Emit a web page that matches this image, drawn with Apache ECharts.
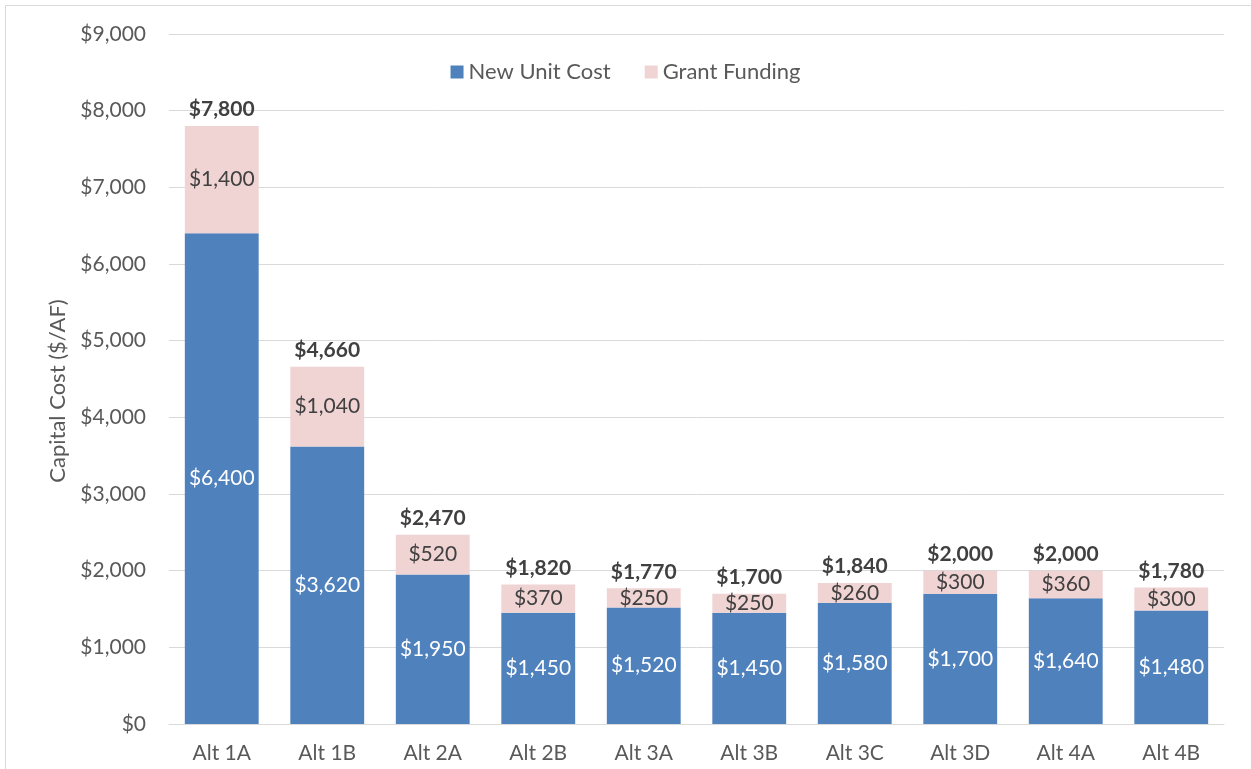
<!DOCTYPE html>
<html>
<head>
    <meta charset="utf-8">
    <title>Capital Cost</title>
    <script src="https://cdn.jsdelivr.net/npm/echarts@6/dist/echarts.min.js"></script>
    <style>
      html, body { margin: 0; padding: 0; background: #fff; }
      #main { width: 1251px; height: 769px; }
    </style>
</head>
<body>
    <div id="main"></div>
    <script type="text/javascript">
      // data
      var categories = ['Alt 1A', 'Alt 1B', 'Alt 2A', 'Alt 2B', 'Alt 3A', 'Alt 3B', 'Alt 3C', 'Alt 3D', 'Alt 4A', 'Alt 4B'];
      var newUnitCost = [6400, 3620, 1950, 1450, 1520, 1450, 1580, 1700, 1640, 1480];
      var grantFunding = [1400, 1040, 520, 370, 250, 250, 260, 300, 360, 300];
      var totals = [7800, 4660, 2470, 1820, 1770, 1700, 1840, 2000, 2000, 1780];

      var font = 'Lato, "Open Sans", sans-serif';
      function money(v) {
        return '$' + v.toString().replace(/\B(?=(\d{3})+(?!\d))/g, ',');
      }

      var myChart = echarts.init(document.getElementById('main'));
      var option = {
        animation: false,
        textStyle: { fontFamily: font },
        graphic: [{
          type: 'rect',
          shape: { x: 5.5, y: 5.5, width: 1260, height: 780 },
          style: { fill: 'none', stroke: '#d9d9d9', lineWidth: 1 }
        }],
        legend: {
          top: 56,
          left: 'center',
          itemWidth: 13,
          itemHeight: 13,
          itemGap: 34,
          icon: 'rect',
          textStyle: { fontSize: 22, color: '#595959', fontFamily: font },
          data: ['New Unit Cost', 'Grant Funding']
        },
        grid: { left: 169, right: 27, top: 34, bottom: 45 },
        xAxis: {
          type: 'category',
          data: categories,
          axisTick: { show: false },
          axisLine: { lineStyle: { color: '#d9d9d9', width: 1 } },
          axisLabel: { color: '#595959', fontSize: 21, margin: 19, fontFamily: font }
        },
        yAxis: {
          type: 'value',
          min: 0,
          max: 9000,
          interval: 1000,
          name: 'Capital Cost ($/AF)',
          nameLocation: 'middle',
          nameGap: 100,
          nameTextStyle: { color: '#595959', fontSize: 22, fontFamily: font, padding: [0, 24, 0, 0] },
          axisLabel: { color: '#595959', fontSize: 21, margin: 23, fontFamily: font, formatter: money },
          splitLine: { lineStyle: { color: '#d9d9d9', width: 1 } }
        },
        series: [
          {
            name: 'New Unit Cost',
            type: 'bar',
            stack: 'cost',
            barCategoryGap: '30%',
            itemStyle: { color: '#4f81bd' },
            label: {
              show: true,
              position: 'inside',
              color: '#ffffff',
              fontSize: 21,
              fontFamily: font,
              formatter: function (p) { return money(p.value); }
            },
            data: newUnitCost
          },
          {
            name: 'Grant Funding',
            type: 'bar',
            stack: 'cost',
            itemStyle: { color: '#f0d3d3' },
            label: {
              show: true,
              position: 'inside',
              color: '#404040',
              fontSize: 21,
              fontFamily: font,
              formatter: function (p) { return money(p.value); }
            },
            data: grantFunding
          },
          {
            // totals drawn above the stack
            name: 'Total',
            type: 'bar',
            stack: 'cost',
            itemStyle: { color: 'transparent' },
            label: {
              show: true,
              position: 'insideBottom',
              distance: 6,
              color: '#404040',
              fontSize: 21,
              fontWeight: 'bold',
              fontFamily: font,
              formatter: function (p) { return money(totals[p.dataIndex]); }
            },
            data: totals.map(function () { return 0; })
          }
        ]
      };
      myChart.setOption(option);
    </script>
</body>
</html>
